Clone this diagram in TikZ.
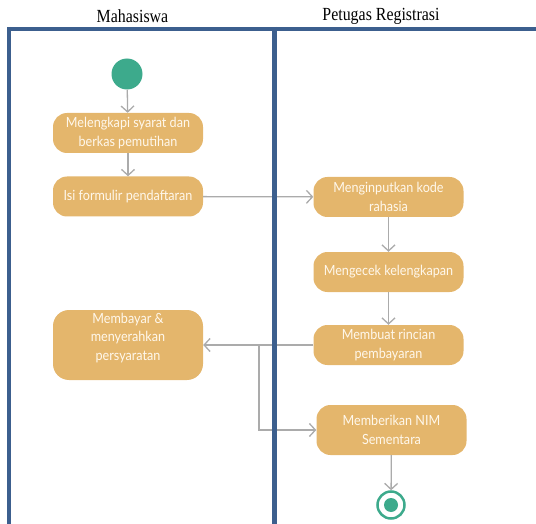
\documentclass[tikz,border=0pt]{standalone}
\usepackage{fontspec}
\setmainfont[FakeStretch=0.86]{Liberation Serif}
\newfontfamily\actfont[FakeStretch=0.9]{Lato}
\usetikzlibrary{arrows.meta}
\definecolor{lanecol}{HTML}{3C5F8E}
\definecolor{actfill}{HTML}{E4B66C}
\definecolor{acttext}{HTML}{FFF8EC}
\definecolor{flowcol}{HTML}{ABABAB}
\definecolor{termcol}{HTML}{3DAA8C}
\tikzset{
  x=1pt, y=-1pt,
  lane/.style={draw=lanecol, line width=4pt},
  lanetitle/.style={font=\fontsize{18.5}{20}\selectfont, inner sep=0pt},
  activity/.style={draw=none, fill=actfill, text=acttext, rounded corners=14pt,
    minimum width=150pt, minimum height=40pt, inner sep=2pt, align=center,
    font=\actfont\fontsize{14}{18.5}\selectfont},
  flow/.style={draw=flowcol, line width=1.3pt,
    -{Straight Barb[length=6pt,width=13pt,line width=1.3pt]}},
  initial/.style={circle, fill=termcol, minimum size=31pt, inner sep=0pt},
  final/.style={circle, draw=termcol, line width=2.5pt, fill=white,
    minimum size=27pt, inner sep=0pt},
}
\begin{document}
\begin{tikzpicture}
\useasboundingbox (0,0) rectangle (536,524);

% lane titles
\node[lanetitle] (tmhs) at (132.5,16) {Mahasiswa};
\node[lanetitle] (tptg) at (381,16) {Petugas Registrasi};

% activities
\node[initial] (start) at (127,74) {};
\node[activity] (n1) at (128,133) {Melengkapi syarat dan\\berkas pemutihan};
\node[activity] (n2) at (128,196.5) {Isi formulir pendaftaran};
\node[activity] (n3) at (388.5,197) {Menginputkan kode\\rahasia};
\node[activity] (n4) at (388.5,272) {Mengecek kelengkapan};
\node[activity] (n5) at (388.5,345) {Membuat rincian\\pembayaran};
\node[activity, minimum height=70pt, rounded corners=16pt] (n6) at (128,345)
  {\raisebox{3.5pt}[0pt][0pt]{\begin{tabular}{@{}c@{}}Membayar \&\\menyerahkan\\persyaratan\end{tabular}}};
\node[activity, minimum height=50pt] (n7) at (391.5,430) {Memberikan NIM\\Sementara};
\node[final] (end) at (391,505) {};
\fill[termcol] (end.center) circle (7pt);

% control flow
\coordinate (split) at (259,345);
\draw[flow] (start) -- (n1);
\draw[flow] (n1) -- (n2);
\draw[flow] (n2) -- (n3);
\draw[flow] (n3) -- (n4);
\draw[flow] (n4) -- (n5);
\draw[flow] (n5) -- (n6);
\draw[flow] (split) |- (n7);
\draw[flow] (n7) -- (end);

% swimlane frame
\draw[lane, line width=3.5pt] (9,27) -- (9,524);
\draw[lane] (7,29) -- (536,29);
\draw[lane, line width=4.5pt] (274.5,27) -- (274.5,524);
\end{tikzpicture}
\end{document}
